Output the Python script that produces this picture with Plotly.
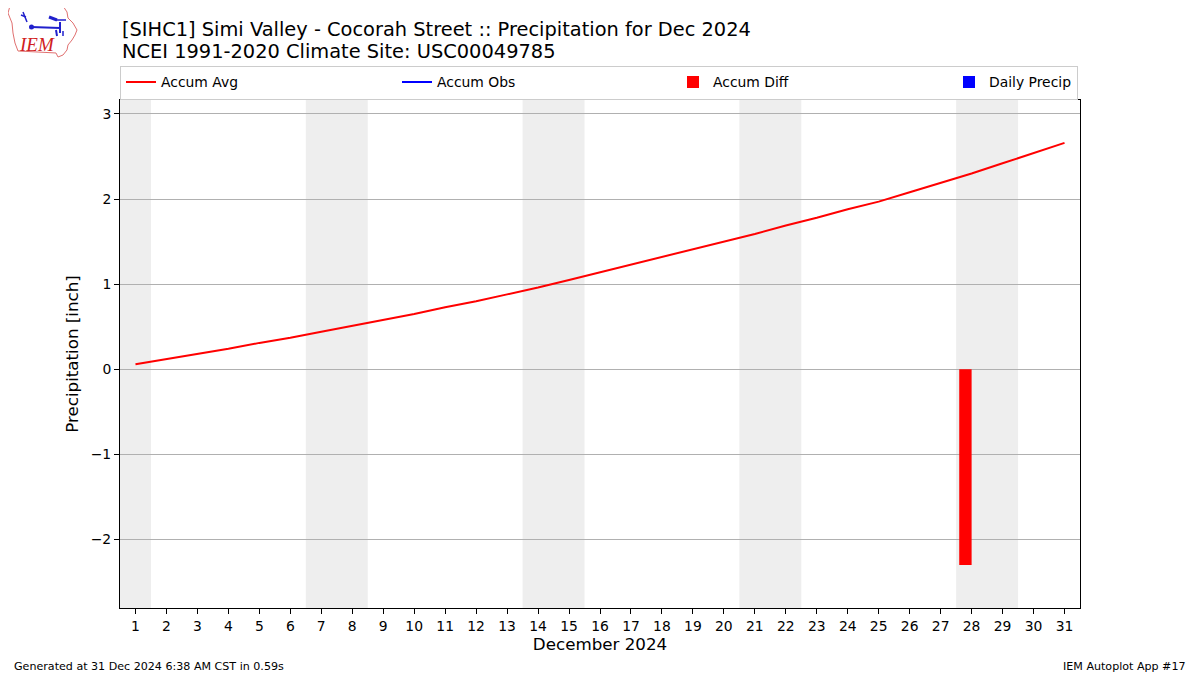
import plotly.graph_objects as go

days = list(range(1, 32))
accum_avg = [0.06, 0.12, 0.18, 0.24, 0.31, 0.37, 0.44, 0.51, 0.58, 0.65,
             0.73, 0.80, 0.88, 0.96, 1.05, 1.14, 1.23, 1.32, 1.41, 1.50,
             1.59, 1.69, 1.78, 1.88, 1.97, 2.08, 2.19, 2.30, 2.42, 2.54, 2.66]
diff_days = [28]
accum_diff = [-2.30]
weekend_spans = [(0.5, 1.5), (6.5, 8.5), (13.5, 15.5), (20.5, 22.5), (27.5, 29.5)]
y_ticks = [-2, -1, 0, 1, 2, 3]
y_tick_text = ["\u22122", "\u22121", "0", "1", "2", "3"]

font = "DejaVu Sans"
# page offset (browser body margin); plot area placed at page 120..1080 x 100..608
OFF = 8
PL, PT, PR, PB = 120, 100, 1080, 608
PW, PH = PR - PL, PB - PT


def px(x):
    return (x - PL) / PW


def py(y):
    return (PB - y) / PH


fig = go.Figure()
fig.add_trace(go.Scatter(x=days, y=accum_avg, mode="lines", name="Accum Avg",
                         line=dict(color="red", width=2), legendwidth=231))
fig.add_trace(go.Scatter(x=[1], y=[None], mode="lines", name="Accum Obs",
                         line=dict(color="blue", width=2), legendwidth=231))
fig.add_trace(go.Bar(x=diff_days, y=accum_diff, name="Accum Diff",
                     marker=dict(color="red", line=dict(width=0)), width=0.4,
                     offset=-0.4, legendwidth=231))
fig.add_trace(go.Bar(x=[1], y=[None], name="Daily Precip",
                     marker=dict(color="blue", line=dict(width=0)), width=0.4,
                     offset=0))

shapes = []
for a, b in weekend_spans:
    shapes.append(dict(type="rect", xref="x", yref="paper", x0=a, x1=b, y0=0, y1=1,
                       fillcolor="#eeeeee", line=dict(width=0), layer="below"))

# logo (approximate Iowa outline + icon)
outline = [(10, 6), (63, 6), (67, 12), (68, 18), (73, 23), (77, 30), (75, 35),
           (72, 40), (68, 45), (67, 50), (63, 55), (58, 57), (56, 53), (18, 51),
           (15, 43), (13, 33), (12, 23), (8, 13)]
path = "M " + " L ".join(f"{px(x):.5f},{py(y):.5f}" for x, y in outline) + " Z"
shapes.append(dict(type="path", xref="paper", yref="paper", path=path,
                   line=dict(color="#e07070", width=1)))


def seg(x0, y0, x1, y1, w=2):
    return dict(type="line", xref="paper", yref="paper",
                x0=px(x0), x1=px(x1), y0=py(y0), y1=py(y1),
                line=dict(color="#2020cc", width=w))


shapes += [seg(31, 27, 60, 28), seg(60, 22, 60, 33), seg(23, 12, 27, 22, 1.5),
           seg(21, 15, 26, 17, 1.5), seg(49, 17, 57, 20, 3), seg(56, 20, 66, 20, 1.5),
           seg(56, 30, 57, 36, 2), seg(63, 31, 63, 36, 1.5)]
shapes.append(dict(type="circle", xref="paper", yref="paper",
                   x0=px(29), x1=px(34), y0=py(24.5), y1=py(29.5),
                   fillcolor="#2020cc", line=dict(width=0)))

fig.update_layout(
    width=1200, height=675,
    margin=dict(l=PL - OFF, r=1200 - (PR - OFF), t=PT - OFF, b=675 - (PB - OFF),
                autoexpand=False),
    paper_bgcolor="white", plot_bgcolor="white",
    font=dict(family=font, size=13.9, color="black"),
    shapes=shapes,
    barmode="overlay",
    showlegend=True,
    legend=dict(orientation="h", x=0, y=py(82.5), xanchor="left", yanchor="middle",
                bordercolor="#cccccc", borderwidth=1, bgcolor="white",
                font=dict(family=font, size=13.9), traceorder="normal"),
    xaxis=dict(range=[0.5, 31.5], tickmode="array", tickvals=days,
               ticktext=[str(d) for d in days], showgrid=False, zeroline=False,
               showline=True, linecolor="black", linewidth=1, mirror=True,
               ticks="outside", ticklen=5, tickcolor="black",
               tickfont=dict(size=13.9),
               title=dict(text="December 2024", font=dict(size=16.7), standoff=5)),
    yaxis=dict(range=[-2.805, 3.164], tickmode="array", tickvals=y_ticks,
               ticktext=y_tick_text,
               showgrid=True, gridcolor="#b0b0b0", gridwidth=1, zeroline=False,
               showline=True, linecolor="black", linewidth=1, mirror=True,
               ticks="outside", ticklen=5, tickcolor="black",
               tickfont=dict(size=13.9),
               title=dict(text="Precipitation [inch]", font=dict(size=16.7), standoff=7)),
    annotations=[
        dict(text="[SIHC1] Simi Valley - Cocorah Street :: Precipitation for Dec 2024",
             xref="paper", yref="paper", x=0, y=py(29), xanchor="left", yanchor="middle",
             showarrow=False, font=dict(size=19.4, family=font)),
        dict(text="NCEI 1991-2020 Climate Site: USC00049785",
             xref="paper", yref="paper", x=0, y=py(52), xanchor="left", yanchor="middle",
             showarrow=False, font=dict(size=19.4, family=font)),
        dict(text="Generated at 31 Dec 2024 6:38 AM CST in 0.59s", xref="paper", yref="paper",
             x=px(12), y=py(666), xanchor="left", yanchor="middle",
             showarrow=False, font=dict(size=11.1, family=font)),
        dict(text="IEM Autoplot App #17", xref="paper", yref="paper",
             x=px(1188), y=py(666), xanchor="right", yanchor="middle",
             showarrow=False, font=dict(size=11.1, family=font)),
        dict(text="<i>IEM</i>", xref="paper", yref="paper",
             x=px(37), y=py(45), xanchor="center", yanchor="middle",
             showarrow=False, font=dict(size=19, family="Liberation Serif", color="#d02020")),
    ],
)

fig.write_html("out.html")
